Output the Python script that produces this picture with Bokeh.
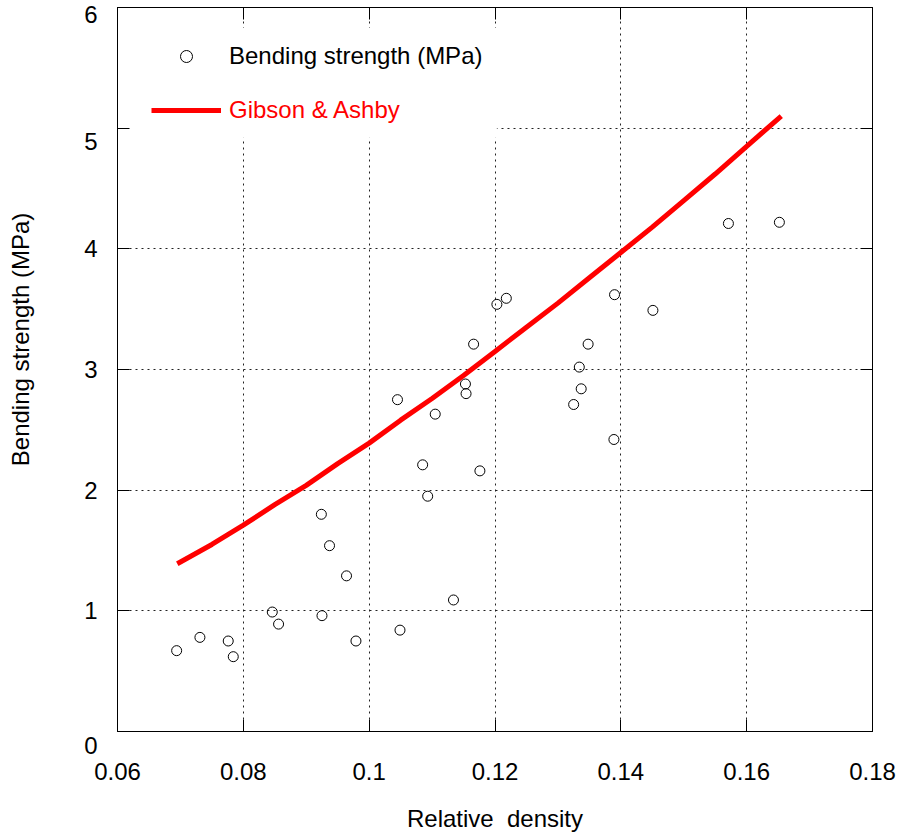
from bokeh.plotting import figure
from bokeh.models import (FixedTicker, LinearAxis, Legend, LegendItem, BoxAnnotation,
                          CustomJSTickFormatter, Range1d)
from bokeh.embed import file_html
from bokeh.resources import INLINE

# ---- data ----
density = [0.0694, 0.0731, 0.0776, 0.0784, 0.0846, 0.0856, 0.0924, 0.0937, 0.0925,
           0.0964, 0.0979, 0.1045, 0.1049, 0.1085, 0.1093, 0.1105, 0.1134, 0.1153,
           0.1154, 0.1166, 0.1176, 0.1203, 0.1218, 0.1325, 0.1334, 0.1337, 0.1348,
           0.1390, 0.1389, 0.1451, 0.1571, 0.1652]
strength = [0.67, 0.78, 0.75, 0.62, 0.99, 0.89, 1.80, 1.54, 0.96,
            1.29, 0.75, 2.75, 0.84, 2.21, 1.95, 2.63, 1.09, 2.88,
            2.80, 3.21, 2.16, 3.54, 3.59, 2.71, 3.02, 2.84, 3.21,
            3.62, 2.42, 3.49, 4.21, 4.22]

model_density = [0.0695, 0.075, 0.080, 0.085, 0.090, 0.095, 0.100, 0.105, 0.110,
                 0.115, 0.120, 0.125, 0.130, 0.135, 0.140, 0.145, 0.150, 0.155,
                 0.160, 0.1655]
model_strength = [1.39, 1.55, 1.71, 1.88, 2.04, 2.22, 2.39, 2.58, 2.76,
                  2.95, 3.15, 3.35, 3.55, 3.76, 3.97, 4.18, 4.40, 4.62,
                  4.85, 5.10]

x_ticks = [0.06, 0.08, 0.1, 0.12, 0.14, 0.16, 0.18]
x_tick_labels = ["0.06", "0.08", "0.1", "0.12", "0.14", "0.16", "0.18"]
y_ticks = [0, 1, 2, 3, 4, 5, 6]
y_tick_labels = ["0", "1", "2", "3", "4", "5", "6"]

series_names = ["Bending strength (MPa)", "Gibson & Ashby"]
x_title = "Relative\u00a0 density"
y_title = "Bending strength (MPa)"

FONT = "Liberation Sans"
FS = "24px"

p = figure(width=902, height=835, x_range=Range1d(0.06, 0.18), y_range=Range1d(0, 6),
           output_backend="svg", toolbar_location=None,
           min_border_left=117, min_border_right=30, min_border_top=7, min_border_bottom=104)
p.background_fill_color = "white"
p.border_fill_color = "white"
p.outline_line_color = "black"
p.outline_line_width = 1

blank = CustomJSTickFormatter(code="return ''")

# bottom axis
xa = p.xaxis[0]
xa.ticker = FixedTicker(ticks=x_ticks)
xa.major_label_overrides = dict(zip(x_ticks, x_tick_labels))
xa.axis_label = x_title
xa.major_label_standoff = 31
xa.axis_label_standoff = 22
# left axis (the "0" and "5" labels sit a little below their ticks, as in the reference)
ya = p.yaxis[0]
ya.ticker = FixedTicker(ticks=y_ticks)
ya.major_label_overrides = {t: ("\n" + s if s in ("0", "5") else s)
                            for t, s in zip(y_ticks, y_tick_labels)}
ya.axis_label = "\u00a0" * 9 + y_title
ya.major_label_standoff = 20
ya.axis_label_standoff = 47

for ax in (xa, ya):
    ax.major_tick_in = 12
    ax.major_tick_out = 0
    ax.minor_tick_line_color = None
    ax.axis_line_color = "black"
    ax.major_tick_line_color = "black"
    ax.major_label_text_font = FONT
    ax.major_label_text_font_size = FS
    ax.major_label_text_color = "black"
    ax.axis_label_text_font = FONT
    ax.axis_label_text_font_size = FS
    ax.axis_label_text_font_style = "normal"
    ax.axis_label_text_color = "black"
ya.major_label_text_line_height = 1.0

# mirrored tick axes on top and right
right_ax = LinearAxis(ticker=FixedTicker(ticks=y_ticks), formatter=blank)
top_ax = LinearAxis(ticker=FixedTicker(ticks=x_ticks), formatter=blank)
for ax in (right_ax, top_ax):
    ax.major_tick_in = 12
    ax.major_tick_out = 0
    ax.minor_tick_line_color = None
    ax.major_label_standoff = 0
    ax.axis_line_color = "black"
p.add_layout(right_ax, "right")
p.add_layout(top_ax, "above")

# grids
for g in (p.xgrid[0], p.ygrid[0]):
    g.grid_line_color = "#222222"
    g.grid_line_dash = "2 4"
    g.grid_line_width = 1
p.xgrid[0].ticker = FixedTicker(ticks=x_ticks)
p.ygrid[0].ticker = FixedTicker(ticks=y_ticks)

# white legend background covering the grid
p.add_layout(BoxAnnotation(left=0.06, right=0.1203, bottom=4.92, top=5.83,
                           fill_color="white", fill_alpha=1.0, line_alpha=0,
                           level="underlay"))

# data
sc = p.scatter(density, strength, marker="circle", size=10, fill_color=None,
               line_color="black", line_width=1)
ln = p.line(model_density, model_strength, line_color="#ff0000", line_width=5)

leg1 = Legend(items=[LegendItem(label=series_names[0], renderers=[sc])],
              location=(34, 660))
leg2 = Legend(items=[LegendItem(label=series_names[1], renderers=[ln])],
              location=(34, 606))
for lg, col in ((leg1, "black"), (leg2, "#ff0000")):
    lg.glyph_width = 70
    lg.glyph_height = 30
    lg.label_standoff = 8
    lg.padding = 0
    lg.margin = 0
    lg.spacing = 0
    lg.background_fill_alpha = 0
    lg.border_line_alpha = 0
    lg.label_text_font = FONT
    lg.label_text_font_size = FS
    lg.label_text_color = col
    p.add_layout(lg)

open("out.html", "w").write(file_html(p, INLINE))
